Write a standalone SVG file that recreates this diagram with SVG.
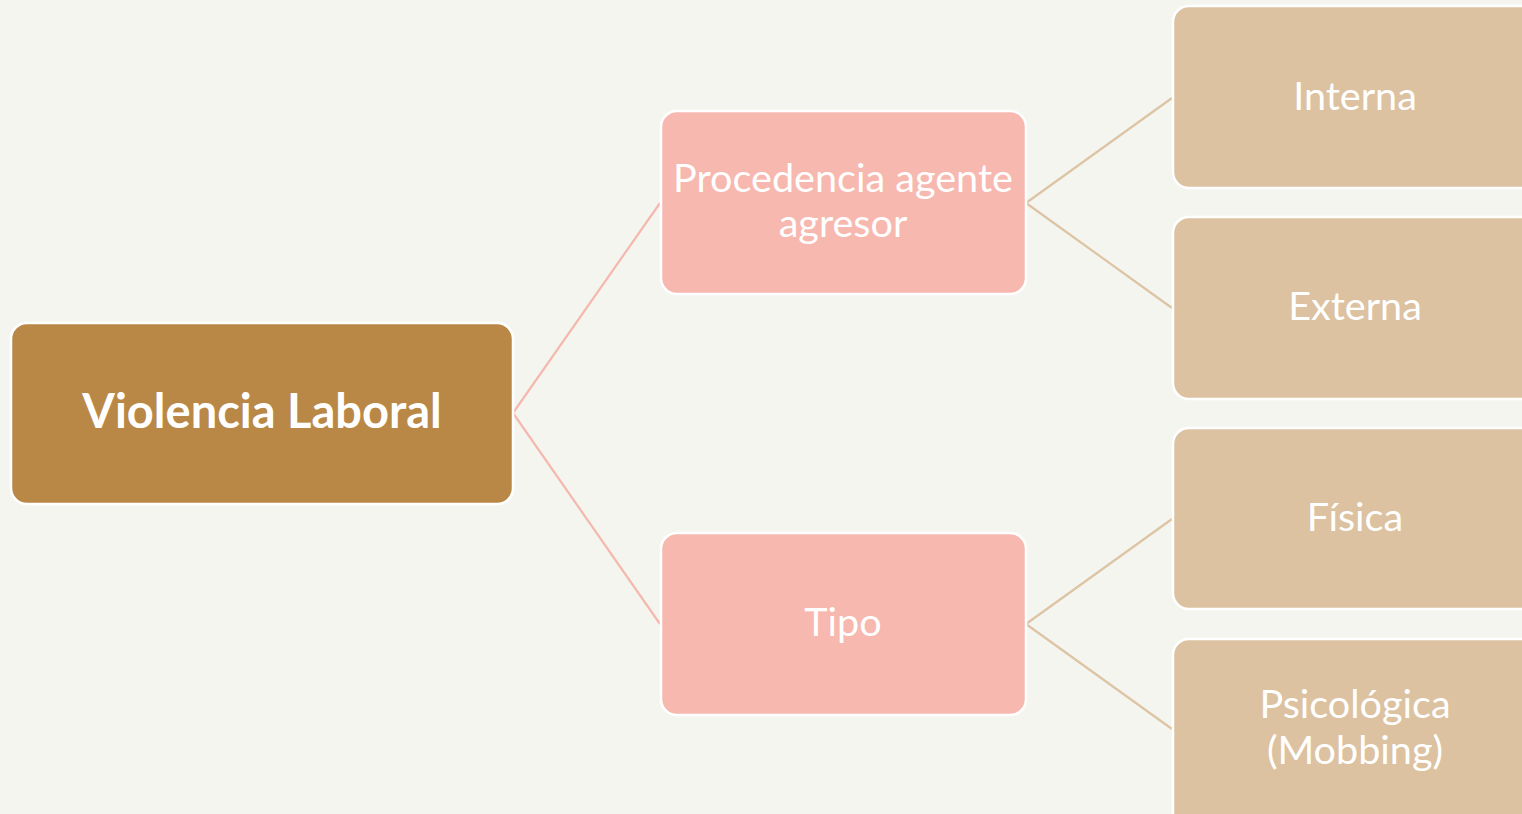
<svg xmlns="http://www.w3.org/2000/svg" width="1522" height="814" viewBox="0 0 1522 814">
<style>
.root{fill:#B98846;stroke:#FFFFFF;stroke-width:2.5}
.mid{fill:#F7B8AF;stroke:#FFFFFF;stroke-width:2.5}
.leaf{fill:#DCC2A0;stroke:#FFFFFF;stroke-width:2.5}
.t{font-family:Lato,"Open Sans","Liberation Sans",sans-serif;fill:#FFFFFF;text-anchor:middle}
.tb{font-size:47px;font-weight:bold}
.tm{font-size:39.6px}
.c1{stroke:#F5B8AE;stroke-width:2.2;fill:none}
.c2{stroke:#DCC4A4;stroke-width:2.2;fill:none}
</style>
<rect width="1522" height="814" fill="#F5F5F0"/>
<g id="connectors">
<path class="c1" d="M513 413 L660 203 M513 413 L660 624"/>
<path class="c2" d="M1026 203 L1172 98 M1026 203 L1172 308 M1026 624 L1172 519 M1026 624 L1172 729"/>
</g>
<g id="n-root"><rect class="root" x="11" y="323" width="502" height="181" rx="16"/><text class="t tb" x="262" y="428">Violencia Laboral</text></g>
<g id="n-procedencia"><rect class="mid" x="661" y="111" width="365" height="183" rx="16"/><text class="t tm" x="843" y="192">Procedencia agente</text><text class="t tm" x="843" y="237">agresor</text></g>
<g id="n-tipo"><rect class="mid" x="661" y="533" width="365" height="182" rx="16"/><text class="t tm" x="843" y="636">Tipo</text></g>
<g id="n-interna"><rect class="leaf" x="1173" y="6" width="370" height="182" rx="16"/><text class="t tm" x="1355" y="110">Interna</text></g>
<g id="n-externa"><rect class="leaf" x="1173" y="217" width="370" height="182" rx="16"/><text class="t tm" x="1355" y="320">Externa</text></g>
<g id="n-fisica"><rect class="leaf" x="1173" y="428" width="370" height="181" rx="16"/><text class="t tm" x="1355" y="531">Física</text></g>
<g id="n-psicologica"><rect class="leaf" x="1173" y="639" width="370" height="190" rx="16"/><text class="t tm" x="1355" y="718">Psicológica</text><text class="t tm" x="1355" y="764">(Mobbing)</text></g>
</svg>
